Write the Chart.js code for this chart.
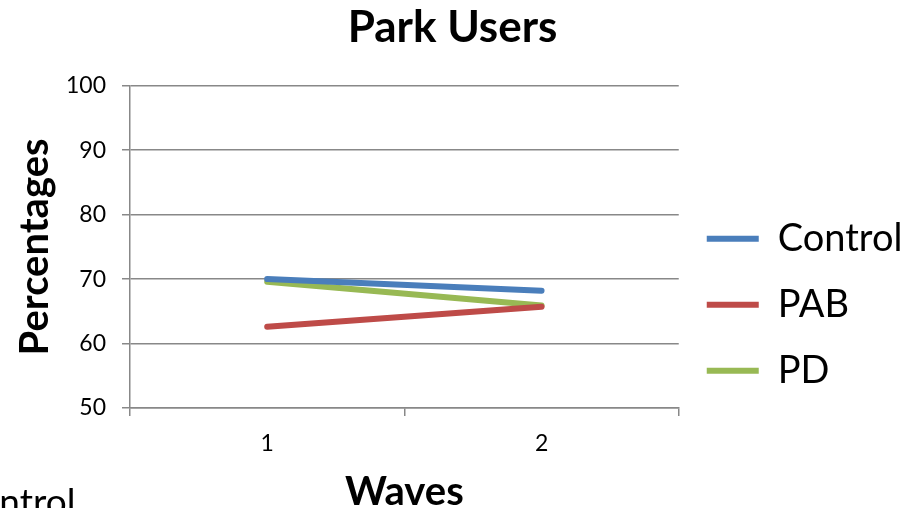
<!DOCTYPE html>
<html>
<head>
<meta charset="utf-8">
<script src="https://cdn.jsdelivr.net/npm/chart.js@4"></script>
<style>
  html, body { margin: 0; padding: 0; background: #fff; overflow: hidden; }
  #wrap { position: relative; width: 922px; height: 508px; }
  #stray { position: absolute; left: -46px; top: 478px; font: 37px Lato, sans-serif; color: #000; white-space: nowrap; }
</style>
</head>
<body>
<div id="wrap">
  <canvas id="chartPark" width="922" height="508"></canvas>
  <div id="stray">Control</div>
</div>
<script>
const waves = ['1', '2'];
const controlValues = [70.0, 68.2];
const pabValues = [62.6, 65.7];
const pdValues = [69.6, 65.9];
const yTicks = [50, 60, 70, 80, 90, 100];

const dataPark = {
  labels: waves,
  datasets: [{
    label: 'Control',
    data: controlValues,
    borderColor: '#4a7ebb',
    backgroundColor: '#4a7ebb',
    borderWidth: 6,
    borderCapStyle: 'round',
    pointRadius: 0
  },
  {
    label: 'PAB',
    data: pabValues,
    borderColor: '#be4b48',
    backgroundColor: '#be4b48',
    borderWidth: 6,
    borderCapStyle: 'round',
    pointRadius: 0
  },
  {
    label: 'PD',
    data: pdValues,
    borderColor: '#98b954',
    backgroundColor: '#98b954',
    borderWidth: 6,
    borderCapStyle: 'round',
    pointRadius: 0
  }]
}

const optionsPark = {
  responsive: false,
  animation: false,
  layout: { padding: { left: 0, top: 1, bottom: -8, right: 17 } },
  scales: {
    x: {
      offset: true,
      afterFit: (axis) => { axis.height = 108; },
      grid: { offset: true, drawOnChartArea: false, tickLength: 8, color: '#888', lineWidth: 1.5 },
      border: { color: '#888', width: 1.5 },
      ticks: { color: '#000', font: { family: 'Lato', size: 23 }, padding: 14 },
      title: { display: true, text: 'Waves', color: '#000', font: { family: 'Lato', size: 40, weight: 'bold' }, padding: { top: 10, bottom: 0 } }
    },
    y: {
      min: yTicks[0],
      max: yTicks[yTicks.length - 1],
      afterBuildTicks: (axis) => { axis.ticks = yTicks.map(v => ({ value: v })); },
      afterFit: (axis) => { axis.width = 130; },
      grid: { color: '#888', lineWidth: 1.5, tickLength: 8 },
      border: { color: '#888', width: 1.5 },
      ticks: { color: '#000', font: { family: 'Lato', size: 23 }, padding: 16 },
      title: { display: true, text: 'Percentages', color: '#000', font: { family: 'Lato', size: 40, weight: 'bold' }, padding: { top: 11, bottom: 0 } }
    }
  },
  plugins: {
    title: {
      display: true,
      text: 'Park Users',
      color: '#000',
      font: { family: 'Lato', size: 44, weight: 'bold' },
      padding: { top: 0, bottom: 32 }
    },
    legend: {
      position: 'right',
      title: { display: true, text: ' ', padding: 39 },
      labels: {
        usePointStyle: true,
        pointStyle: 'line',
        pointStyleWidth: 52,
        padding: 28,
        color: '#000',
        font: { family: 'Lato', size: 38 }
      }
    },
    tooltip: { enabled: false }
  }
}

const ctxPark = document.getElementById('chartPark');

new Chart(ctxPark, {
  type: 'line',
  data: dataPark,
  options: optionsPark
})
</script>
</body>
</html>
